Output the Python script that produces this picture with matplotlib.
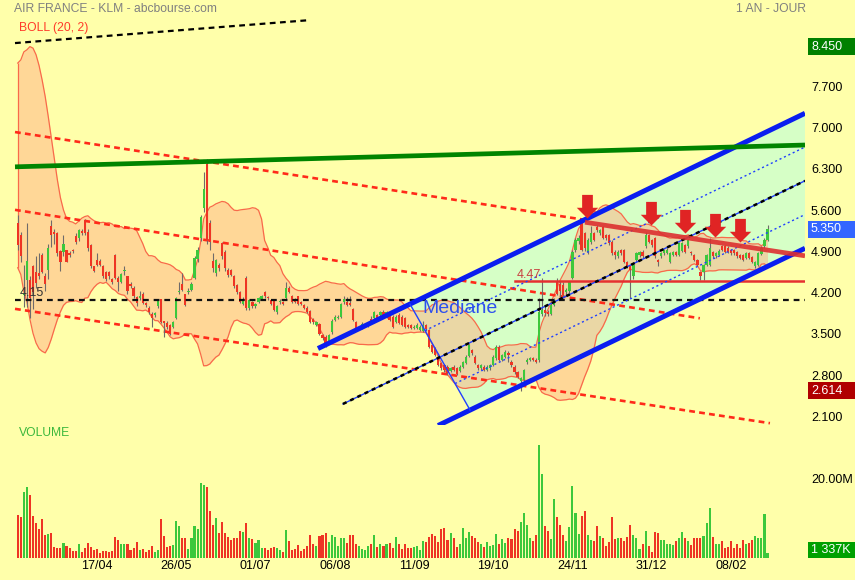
import numpy as np
import pandas as pd
import matplotlib
matplotlib.use('Agg')
import matplotlib.pyplot as plt
from matplotlib.path import Path
from matplotlib.patches import Rectangle, Polygon
from matplotlib.transforms import blended_transform_factory as blend

# daily candles, AIR FRANCE - KLM, one year
opens = [5.45, 5.25, 4.23, 4.49, 4.49, 4.72, 4.63, 4.60, 4.91, 4.55,
         4.66, 5.40, 5.30, 5.28, 4.98, 4.97, 5.00, 4.93, 5.00, 5.24,
         5.20, 5.32, 5.50, 5.31, 5.09, 4.72, 4.83, 4.82, 4.72, 4.63,
         4.62, 4.51, 4.91, 4.52, 4.45, 4.64, 4.55, 4.43, 4.36, 4.20,
         4.18, 4.26, 4.10, 4.02, 3.92, 3.90, 4.04, 4.16, 3.79, 3.76,
         3.73, 3.70, 3.85, 4.28, 4.43, 4.25, 4.28, 4.32, 4.52, 4.85,
         5.20, 5.71, 6.45, 5.45, 4.81, 4.60, 4.75, 5.11, 4.97, 4.66,
         4.66, 4.56, 4.40, 4.29, 4.09, 4.52, 4.01, 4.12, 4.04, 4.12,
         4.17, 4.29, 4.20, 4.15, 4.13, 3.94, 4.11, 4.10, 4.18, 4.36,
         4.21, 4.17, 4.21, 4.12, 4.07, 4.02, 3.96, 3.82, 3.73, 3.74,
         3.55, 3.53, 3.45, 3.60, 3.81, 3.84, 3.87, 4.11, 4.12, 4.10,
         3.99, 3.78, 3.66, 3.67, 3.72, 3.72, 3.82, 3.84, 3.90, 3.90,
         3.95, 3.87, 3.90, 3.87, 3.78, 3.90, 3.87, 3.84, 3.72, 3.73,
         3.68, 3.67, 3.64, 3.62, 3.72, 3.64, 3.39, 3.33, 3.19, 3.08,
         3.05, 3.02, 2.94, 3.02, 3.00, 2.94, 3.02, 3.08, 3.20, 3.30,
         3.19, 3.05, 2.99, 3.02, 2.97, 3.00, 3.05, 3.16, 3.36, 3.13,
         3.19, 3.25, 3.10, 3.02, 2.92, 2.78, 2.80, 3.10, 3.13, 3.16,
         3.14, 3.13, 3.92, 3.98, 3.95, 3.92, 4.07, 4.46, 4.43, 4.40,
         4.28, 4.30, 4.52, 5.00, 5.15, 5.45, 5.28, 4.97, 5.13, 5.28,
         5.39, 5.28, 5.39, 5.25, 5.25, 5.14, 4.96, 4.89, 5.00, 5.00,
         4.80, 4.72, 4.55, 4.83, 4.91, 4.97, 5.06, 5.25, 5.17, 5.20,
         4.83, 4.89, 4.94, 4.95, 4.80, 4.91, 4.97, 4.91, 4.99, 5.08,
         5.06, 4.97, 4.91, 4.83, 4.63, 4.63, 4.74, 4.74, 4.97, 4.89,
         4.91, 5.06, 5.06, 5.04, 5.00, 5.00, 4.97, 4.91, 4.91, 4.86,
         4.94, 4.88, 4.72, 4.74, 4.93, 5.06, 5.17]
closes = [5.08, 4.89, 4.26, 4.81, 4.18, 4.29, 4.44, 4.56, 4.63, 4.43,
          5.04, 5.25, 5.27, 4.94, 4.80, 5.10, 4.80, 4.92, 4.98, 5.13,
          5.34, 5.29, 5.28, 5.03, 4.72, 4.65, 4.74, 4.75, 4.55, 4.51,
          4.55, 4.45, 4.52, 4.45, 4.59, 4.66, 4.30, 4.38, 4.21, 4.10,
          4.22, 4.10, 4.06, 3.95, 3.84, 3.93, 4.15, 3.78, 3.76, 3.70,
          3.58, 3.78, 4.18, 4.30, 4.32, 4.07, 4.30, 4.43, 4.87, 5.00,
          5.56, 6.04, 5.15, 5.14, 4.69, 4.83, 4.69, 4.89, 4.69, 4.57,
          4.58, 4.38, 4.29, 4.12, 4.17, 4.01, 4.15, 4.04, 4.08, 4.18,
          4.21, 4.21, 4.18, 4.09, 3.98, 4.04, 4.13, 4.09, 4.36, 4.29,
          4.12, 4.12, 4.09, 4.08, 4.02, 3.95, 3.78, 3.78, 3.77, 3.58,
          3.50, 3.39, 3.55, 3.80, 3.87, 3.87, 4.08, 4.17, 4.07, 4.07,
          3.81, 3.67, 3.68, 3.75, 3.74, 3.76, 3.80, 3.95, 3.83, 3.94,
          3.90, 3.94, 3.81, 3.70, 3.87, 3.76, 3.73, 3.70, 3.70, 3.67,
          3.70, 3.73, 3.70, 3.73, 3.66, 3.36, 3.27, 3.22, 3.05, 2.99,
          2.96, 2.91, 2.99, 2.96, 2.90, 3.02, 3.10, 3.19, 3.39, 3.25,
          3.08, 2.99, 3.04, 2.97, 3.02, 3.04, 3.19, 3.36, 3.13, 3.22,
          3.27, 3.22, 3.05, 2.92, 2.85, 2.82, 2.96, 3.13, 3.16, 3.13,
          3.10, 3.95, 3.98, 3.93, 3.92, 4.07, 4.15, 4.26, 4.30, 4.24,
          4.32, 4.46, 4.97, 5.17, 5.20, 5.00, 5.03, 5.17, 5.28, 5.17,
          5.34, 5.34, 5.20, 5.20, 5.11, 4.94, 4.92, 4.97, 4.94, 4.80,
          4.72, 4.66, 4.74, 4.94, 4.97, 4.89, 5.25, 5.14, 5.08, 4.89,
          4.80, 4.94, 5.00, 5.00, 4.94, 4.97, 4.91, 5.11, 5.11, 4.97,
          5.17, 4.94, 4.83, 4.75, 4.55, 4.74, 4.91, 5.03, 4.89, 4.95,
          4.99, 5.00, 4.97, 4.97, 4.94, 4.94, 4.89, 4.86, 4.83, 4.94,
          4.86, 4.80, 4.80, 4.94, 5.03, 5.17, 5.35]
highs = [5.59, 5.30, 4.75, 5.45, 4.55, 4.75, 4.90, 4.95, 4.95, 4.60,
         5.10, 5.50, 5.35, 5.30, 5.00, 5.25, 5.00, 4.98, 5.02, 5.28,
         5.35, 5.35, 5.52, 5.35, 5.10, 4.73, 4.95, 4.85, 4.75, 4.65,
         4.64, 4.53, 4.93, 4.55, 4.60, 4.72, 4.56, 4.45, 4.38, 4.22,
         4.30, 4.28, 4.12, 4.04, 3.95, 3.95, 4.17, 4.17, 3.80, 3.80,
         3.75, 3.80, 4.20, 4.45, 4.60, 4.26, 4.35, 4.45, 4.90, 5.05,
         5.60, 6.33, 6.55, 5.50, 4.95, 4.85, 4.78, 5.13, 5.00, 4.70,
         4.68, 4.58, 4.42, 4.30, 4.20, 4.55, 4.17, 4.14, 4.10, 4.20,
         4.24, 4.31, 4.22, 4.17, 4.15, 4.06, 4.16, 4.13, 4.45, 4.38,
         4.23, 4.19, 4.22, 4.14, 4.09, 4.04, 3.98, 3.84, 3.79, 3.76,
         3.57, 3.55, 3.57, 3.82, 3.90, 3.89, 4.10, 4.22, 4.20, 4.22,
         4.01, 3.80, 3.70, 3.77, 3.76, 3.78, 3.88, 3.97, 3.92, 3.96,
         3.98, 3.97, 3.93, 3.89, 3.90, 3.93, 3.89, 3.86, 3.75, 3.75,
         3.73, 3.76, 3.73, 3.80, 3.74, 3.66, 3.41, 3.35, 3.21, 3.10,
         3.07, 3.04, 3.01, 3.04, 3.02, 3.04, 3.12, 3.21, 3.41, 3.32,
         3.21, 3.07, 3.06, 3.05, 3.04, 3.06, 3.21, 3.38, 3.38, 3.24,
         3.30, 3.28, 3.13, 3.04, 2.94, 2.84, 2.98, 3.16, 3.18, 3.18,
         3.16, 4.18, 4.52, 4.05, 3.98, 4.10, 4.18, 4.52, 4.47, 4.46,
         4.36, 4.48, 5.00, 5.20, 5.26, 5.50, 5.30, 5.20, 5.40, 5.30,
         5.42, 5.36, 5.41, 5.27, 5.27, 5.16, 5.00, 5.00, 5.02, 5.02,
         4.82, 4.74, 4.76, 4.96, 4.99, 5.00, 5.30, 5.27, 5.19, 5.22,
         4.85, 4.96, 5.02, 5.03, 4.96, 4.99, 4.99, 5.14, 5.13, 5.10,
         5.19, 4.99, 4.93, 4.85, 4.65, 4.76, 4.93, 5.20, 4.99, 4.97,
         5.01, 5.08, 5.08, 5.06, 5.02, 5.02, 4.99, 4.93, 4.93, 4.96,
         4.96, 4.90, 4.82, 4.96, 5.06, 5.20, 5.42]
lows = [5.00, 4.80, 4.03, 4.03, 3.84, 4.00, 4.35, 4.50, 4.60, 4.30,
        4.50, 5.05, 5.10, 4.90, 4.65, 4.90, 4.79, 4.88, 4.94, 5.10,
        5.15, 5.26, 5.25, 4.98, 4.70, 4.62, 4.72, 4.72, 4.52, 4.48,
        4.50, 4.43, 4.50, 4.30, 4.44, 4.58, 4.25, 4.35, 4.18, 4.05,
        4.15, 4.08, 4.03, 3.92, 3.70, 3.87, 4.02, 3.76, 3.53, 3.66,
        3.56, 3.68, 3.83, 4.25, 4.30, 4.05, 4.25, 4.30, 4.50, 4.80,
        5.15, 5.65, 5.10, 5.00, 4.62, 4.55, 4.65, 4.85, 4.65, 4.54,
        4.55, 4.36, 4.26, 4.10, 4.07, 3.98, 3.98, 4.02, 4.02, 4.10,
        4.15, 4.19, 4.15, 4.07, 3.96, 3.92, 4.09, 4.07, 4.15, 4.27,
        4.10, 4.10, 4.07, 4.06, 4.00, 3.93, 3.76, 3.75, 3.71, 3.56,
        3.47, 3.35, 3.43, 3.58, 3.79, 3.82, 3.85, 4.09, 4.05, 4.05,
        3.79, 3.65, 3.64, 3.65, 3.70, 3.70, 3.78, 3.82, 3.81, 3.88,
        3.88, 3.85, 3.79, 3.68, 3.76, 3.74, 3.71, 3.68, 3.68, 3.65,
        3.66, 3.65, 3.62, 3.60, 3.62, 3.33, 3.25, 3.20, 3.03, 2.96,
        2.93, 2.88, 2.92, 2.94, 2.88, 2.92, 3.00, 3.06, 3.18, 3.22,
        3.06, 2.96, 2.97, 2.95, 2.95, 2.97, 3.03, 3.14, 3.11, 3.11,
        3.17, 3.10, 3.02, 2.90, 2.83, 2.614, 2.75, 3.07, 3.11, 3.11,
        3.08, 3.10, 3.88, 3.88, 3.88, 3.90, 4.05, 4.24, 4.20, 4.19,
        4.23, 4.27, 4.50, 4.97, 5.10, 4.98, 4.98, 4.93, 5.10, 5.15,
        5.30, 5.26, 5.18, 5.17, 5.09, 4.91, 4.85, 4.87, 4.92, 4.78,
        4.70, 4.18, 4.50, 4.80, 4.88, 4.87, 5.03, 5.12, 5.05, 4.87,
        4.72, 4.87, 4.92, 4.93, 4.78, 4.89, 4.89, 4.89, 4.97, 4.95,
        5.04, 4.92, 4.81, 4.73, 4.49, 4.49, 4.72, 4.72, 4.87, 4.87,
        4.89, 4.98, 4.95, 4.95, 4.92, 4.92, 4.87, 4.84, 4.81, 4.84,
        4.84, 4.78, 4.70, 4.72, 4.91, 5.04, 5.15]
# volume in millions of shares
volumes = [11.4, 10.9, 17.5, 18.9, 16.9, 11.1, 9.3, 7.7, 10.5, 6.2,
           6.4, 6.7, 2.8, 2.7, 2.6, 4.0, 3.1, 2.7, 1.8, 1.8,
           3.6, 1.6, 2.7, 4.0, 2.8, 2.2, 2.5, 1.3, 1.8, 1.8,
           1.6, 1.9, 5.6, 4.9, 3.8, 3.8, 3.6, 2.0, 2.7, 4.2,
           2.0, 2.5, 1.5, 2.0, 3.1, 1.6, 2.2, 10.5, 5.8, 2.9,
           3.3, 3.4, 9.9, 8.6, 5.4, 5.4, 2.5, 5.2, 8.4, 7.6,
           20.0, 19.5, 18.9, 12.4, 8.8, 10.7, 6.6, 9.5, 6.6, 5.6,
           4.9, 5.4, 5.4, 7.1, 6.8, 9.3, 5.2, 5.1, 4.0, 4.7,
           2.7, 2.7, 2.2, 2.7, 2.8, 2.6, 2.2, 1.7, 7.4, 4.6,
           2.2, 2.4, 3.5, 1.8, 2.5, 3.3, 6.1, 3.6, 3.1, 5.9,
           6.1, 6.7, 4.2, 6.1, 5.6, 3.3, 5.3, 5.2, 4.1, 6.0,
           6.2, 3.7, 3.1, 2.5, 2.2, 3.1, 3.8, 6.0, 2.8, 3.6,
           3.1, 3.6, 4.0, 2.7, 5.6, 3.7, 2.5, 3.8, 2.6, 2.6,
           2.8, 3.1, 2.2, 4.4, 4.3, 5.5, 6.4, 5.8, 4.3, 7.7,
           7.9, 4.9, 6.7, 5.3, 2.9, 3.6, 8.0, 5.2, 7.0, 5.9,
           5.2, 4.3, 3.8, 2.9, 4.2, 3.1, 3.4, 6.4, 3.7, 5.1,
           4.1, 5.4, 5.0, 7.7, 7.3, 9.7, 12.0, 8.7, 5.2, 4.4,
           6.0, 30.2, 22.5, 8.4, 7.1, 5.1, 15.8, 10.9, 8.8, 6.0,
           4.5, 8.2, 19.1, 12.0, 6.5, 11.3, 12.6, 6.2, 4.7, 4.5,
           8.6, 5.8, 5.2, 3.1, 4.3, 10.9, 5.0, 5.3, 5.3, 4.4,
           5.6, 8.9, 6.0, 5.3, 2.4, 3.6, 7.1, 3.3, 1.5, 6.9,
           6.7, 4.9, 4.9, 3.8, 3.6, 3.4, 4.6, 5.3, 6.8, 5.3,
           4.4, 3.5, 5.3, 5.2, 5.3, 5.8, 9.3, 13.3, 5.5, 3.6,
           3.6, 4.6, 2.7, 2.9, 4.4, 2.7, 3.6, 2.7, 4.9, 3.8,
           4.0, 4.9, 5.8, 5.2, 5.2, 11.8, 1.337]
# closes before the window, only used to start the Bollinger(20, 2) bands
pre_close = [5.5, 5.8, 6.2, 6.6, 6.9, 7.2, 7.4, 7.5, 7.5, 7.5,
             7.4, 7.2, 6.9, 6.5, 6.1, 5.7, 5.3, 5.1, 5.3]

date_idx = [26, 52, 78, 104, 130, 156, 182, 208, 234]
date_lbl = ['17/04', '26/05', '01/07', '06/08', '11/09', '19/10', '24/11', '31/12', '08/02']
price_ticks = [2.1, 2.8, 3.5, 4.2, 4.9, 5.6, 6.3, 7.0, 7.7]
top_tag = 8.45

# hand-drawn lines on the chart: (start bar, start price, end bar, end price)
red_trend = [(-0.9, 7.00, 186.1, 5.51), (-0.9, 5.68, 223.8, 3.84), (-0.9, 4.00, 246.8, 2.06)]
black_top = (-0.9, 8.51, 95.9, 8.90)
green_line = (-0.9, 6.41, 258.3, 6.78)
resist_line = (186.1, 5.47, 258.3, 4.90)
pivot_level = 4.15
support_level, support_from = 4.47, 163.1
# pitchfork channel
pf_ref, pf_up0, pf_lo0, pf_slope = 184.46, 5.474, 3.183, 0.02498
pf_start_up, pf_start_med, pf_start_lo = 98.5, 106.7, 137.9
pf_handle = (128.7, 148.4)
# red arrows: bar and tip price
arrow_idx = [186.8, 207.8, 218.9, 228.8, 236.9]
arrow_tip = [5.54, 5.42, 5.29, 5.22, 5.13]


def main():
    W, H = 855, 580
    BG = '#FFFFAA'
    UP, DOWN = '#3CC83C', '#EE3424'
    plt.rcParams['font.family'] = ['Liberation Sans', 'DejaVu Sans']

    fig = plt.figure(figsize=(W / 100, H / 100), dpi=100, facecolor=BG)
    ax = fig.add_axes([14 / W, 1 - 425 / H, 791 / W, 425 / H])
    axv = fig.add_axes([14 / W, 22 / H, 791 / W, 128 / H])
    xe = 258.3
    for a in (ax, axv):
        a.set_facecolor('none')
        a.set_axis_off()
        a.set_xlim(-1.23, xe)
    ax.set_ylim(2.029, 9.241)
    axv.set_ylim(0, 34.13)

    idx = np.arange(len(closes))
    o = np.array(opens)
    c = np.array(closes)
    col = np.where(c >= o, UP, DOWN)

    # pitchfork channel
    width = pf_up0 - pf_lo0

    def pf(i, f):
        return pf_up0 - f * width + pf_slope * (np.asarray(i) - pf_ref)

    h0, h1 = pf_handle
    ax.add_patch(Polygon([(h0, pf(h0, 0)), (xe, pf(xe, 0)), (xe, pf(xe, 1)), (h1, pf(h1, 1))],
                         closed=True, facecolor='#D6FFC6', edgecolor='none', zorder=1))

    # Bollinger (20, 2)
    s = pd.Series(pre_close + closes)
    mid = s.rolling(20).mean()
    sd = s.rolling(20).std(ddof=0)
    bu = (mid + 2 * sd).to_numpy()[len(pre_close):]
    bl = (mid - 2 * sd).to_numpy()[len(pre_close):]
    ax.fill_between(idx, bl, bu, color='#FFB186', alpha=0.5, lw=0, zorder=2)
    ax.plot(idx, bu, color='#F86A4A', lw=0.9, zorder=2.5)
    ax.plot(idx, bl, color='#F86A4A', lw=0.9, zorder=2.5)
    ax.vlines(0, bl[0], bu[0], color='#F86A4A', lw=0.9, zorder=2.5)

    for x0, y0, x1, y1 in red_trend:
        ax.plot([x0, x1], [y0, y1], color='#FF2A1A', lw=1.9, ls=(0, (2.2, 1.6)), zorder=3)
    x0, y0, x1, y1 = black_top
    ax.plot([x0, x1], [y0, y1], color='black', lw=1.6, ls=(0, (2.6, 2.0)), zorder=3)

    # candles
    ax.vlines(idx, lows, highs, color='#6F6A6A', lw=0.8, zorder=4)
    body = np.maximum(np.abs(c - o), 0.02)
    ax.bar(idx, body, bottom=np.minimum(o, c), width=0.72, color=col, lw=0, zorder=4.5)

    ax.plot([-0.9, xe], [pivot_level, pivot_level], color='#111111', lw=1.6,
            ls=(0, (2.6, 2.2)), zorder=5)
    ax.plot([support_from, xe], [support_level, support_level], color='#E53030', lw=1.8, zorder=5)

    # pitchfork lines
    ax.plot([pf_start_up, xe], pf([pf_start_up, xe], 0), color='#0A1EF0', lw=3.6,
            solid_capstyle='butt', zorder=6)
    ax.plot([pf_start_lo, xe], pf([pf_start_lo, xe], 1), color='#0A1EF0', lw=3.6,
            solid_capstyle='butt', zorder=6)
    ax.plot([pf_start_med, xe], pf([pf_start_med, xe], 0.5), color='#2040FF', lw=1.0, zorder=6)
    ax.plot([pf_start_med, xe], pf([pf_start_med, xe], 0.5), color='black', lw=1.8,
            ls=(0, (1.6, 1.6)), zorder=6.1)
    for f in (0.25, 0.75):
        x_start = h0 + f * (h1 - h0)
        ax.plot([x_start, xe], pf([x_start, xe], f), color='#2040FF', lw=1.0,
                ls=(0, (1.5, 2.0)), zorder=6)
    ax.plot([h0, h1], [pf(h0, 0), pf(h1, 1)], color='#2040FF', lw=1.0, zorder=6)

    x0, y0, x1, y1 = green_line
    ax.plot([x0, x1], [y0, y1], color='#008400', lw=3.4, solid_capstyle='butt', zorder=6)
    x0, y0, x1, y1 = resist_line
    ax.plot([x0, x1], [y0, y1], color='#DC3030', lw=3.4, alpha=0.9,
            solid_capstyle='butt', zorder=6.2)

    # down arrows, tip at the marker origin
    verts = [(0, 0), (0.5, 0.5), (0.25, 0.5), (0.25, 1.1), (-0.25, 1.1),
             (-0.25, 0.5), (-0.5, 0.5), (0, 0)]
    codes = [Path.MOVETO] + [Path.LINETO] * 6 + [Path.CLOSEPOLY]
    arrow = Path(verts, codes)
    ax.plot(arrow_idx, arrow_tip, ls='none', marker=arrow, markersize=34,
            color='#E02424', markeredgewidth=0, zorder=7)

    # chart texts
    ax.text(0.5, 4.27, '4.15', color='#333333', fontsize=9, va='center', zorder=8)
    ax.text(163.7, 4.58, '4.47', color='#C84040', fontsize=9, va='center', zorder=8)
    ax.text(132.6, 4.0, 'Mediane', color='#2E50EE', fontsize=14, va='center', zorder=8)

    fig.text(14 / W, 1 - 9 / H, 'AIR FRANCE - KLM - abcbourse.com', color='#808080',
             fontsize=8.7, va='center')
    fig.text(806 / W, 1 - 9 / H, '1 AN - JOUR', color='#808080', fontsize=8.7,
             va='center', ha='right')
    fig.text(19 / W, 1 - 28 / H, 'BOLL (20, 2)', color='#FF3A2A', fontsize=8.7, va='center')
    fig.text(19 / W, 1 - 433 / H, 'VOLUME', color='#3CB83C', fontsize=8.7, va='center')

    # right axis labels
    tr = blend(fig.transFigure, ax.transData)
    for v in price_ticks:
        ax.text(811 / W, v, '%.3f' % v, transform=tr, fontsize=9, va='baseline')
    box_h = 17 / 58.93
    for v, fc in ((top_tag, '#008000'), (closes[-1], '#3366FF'), (min(lows), '#B00000')):
        ax.add_patch(Rectangle((808 / W, v - box_h / 2), 47 / W, box_h, transform=tr,
                               facecolor=fc, edgecolor='none', clip_on=False, zorder=8.5))
        ax.text(811 / W, v, '%.3f' % v, transform=tr, fontsize=9, color='white',
                va='center', zorder=9)

    trv = blend(fig.transFigure, axv.transData)
    axv.text(811 / W, 20, '20.00M', transform=trv, fontsize=9, va='baseline')
    last_v = volumes[-1]
    vb = 15.5 / 3.75
    vc = max(last_v, vb / 2)
    axv.add_patch(Rectangle((808 / W, vc - vb / 2), 47 / W, vb, transform=trv,
                            facecolor='#00A000', edgecolor='none', clip_on=False, zorder=8.5))
    axv.text(811 / W, vc, '{:,}K'.format(int(round(last_v * 1000))).replace(',', ' '),
             transform=trv, fontsize=9, color='white', va='center', zorder=9)

    # volume bars
    axv.bar(idx, volumes, width=0.68, color=col, lw=0)

    trd = blend(axv.transData, axv.transAxes)
    for i, lbl in zip(date_idx, date_lbl):
        axv.text(i, -8 / 128, lbl, transform=trd, fontsize=9, ha='center', va='center')

    fig.savefig('out.png', dpi=100, facecolor=BG)


if __name__ == '__main__':
    main()
